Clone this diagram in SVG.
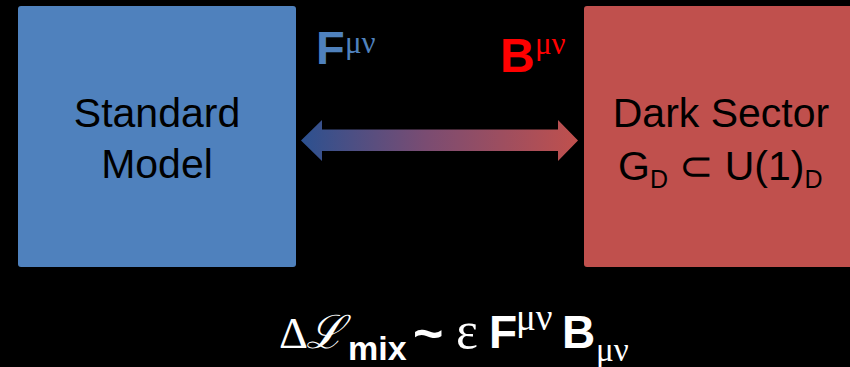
<svg xmlns="http://www.w3.org/2000/svg" width="850" height="367" viewBox="0 0 850 367">
<style>
.lbl{font-family:"Liberation Sans",Arial,sans-serif;font-size:41px;fill:#000;text-anchor:middle}
.sym{font-family:"Liberation Sans",Arial,sans-serif;font-weight:bold}
.gr{font-family:"Liberation Serif","Times New Roman",serif}
</style>
<defs>
<linearGradient id="g" x1="301" y1="0" x2="578" y2="0" gradientUnits="userSpaceOnUse">
<stop offset="0" stop-color="#2c5190"/>
<stop offset="0.45" stop-color="#7a4c72"/>
<stop offset="1" stop-color="#c0504d"/>
</linearGradient>
</defs>
<rect width="850" height="367" fill="#000"/>
<g id="standard-model">
<rect x="18" y="6" width="278" height="261" rx="3" fill="#4f81bd"/>
<text class="lbl" x="157" y="127">Standard</text>
<text class="lbl" x="157" y="178">Model</text>
</g>
<g id="dark-sector">
<rect x="584" y="6" width="280" height="261" rx="3" fill="#c0504d"/>
<text class="lbl" x="721" y="127">Dark Sector</text>
<text class="lbl" x="618" y="180" style="text-anchor:start">G<tspan font-size="25" dy="8">D</tspan><tspan dy="-8"> ⊂ U(1)</tspan><tspan font-size="25" dy="8">D</tspan></text>
</g>
<g id="connectors">
<polygon points="301,140.5 322,120 322,129.5 558,129.5 558,120 578,140.5 558,161 558,151 322,151 322,161" fill="url(#g)"/>
</g>
<g id="labels">
<text class="sym" x="316" y="64" font-size="47" fill="#4f81bd">F</text>
<text class="gr" x="345" y="53" font-size="31" fill="#4f81bd">μν</text>
<text class="sym" x="500" y="71.5" font-size="48" fill="#ff0000">B</text>
<text class="gr" x="535" y="54" font-size="31" fill="#ff0000">μν</text>
<g fill="#fff">
<text class="gr" x="279" y="348" font-size="45">Δ</text>
<text class="gr" x="306" y="348" font-size="46" font-style="italic">ℒ</text>
<text class="sym" x="348" y="360" font-size="34">mix</text>
<text class="sym" x="413" y="351" font-size="52">~</text>
<text class="gr" x="456" y="348" font-size="52">ε</text>
<text class="sym" x="489" y="348" font-size="46">F</text>
<text class="gr" x="516" y="330" font-size="37">μν</text>
<text class="sym" x="562" y="348" font-size="46">B</text>
<text class="gr" x="596" y="361" font-size="33">μν</text>
</g>
</g>
</svg>
